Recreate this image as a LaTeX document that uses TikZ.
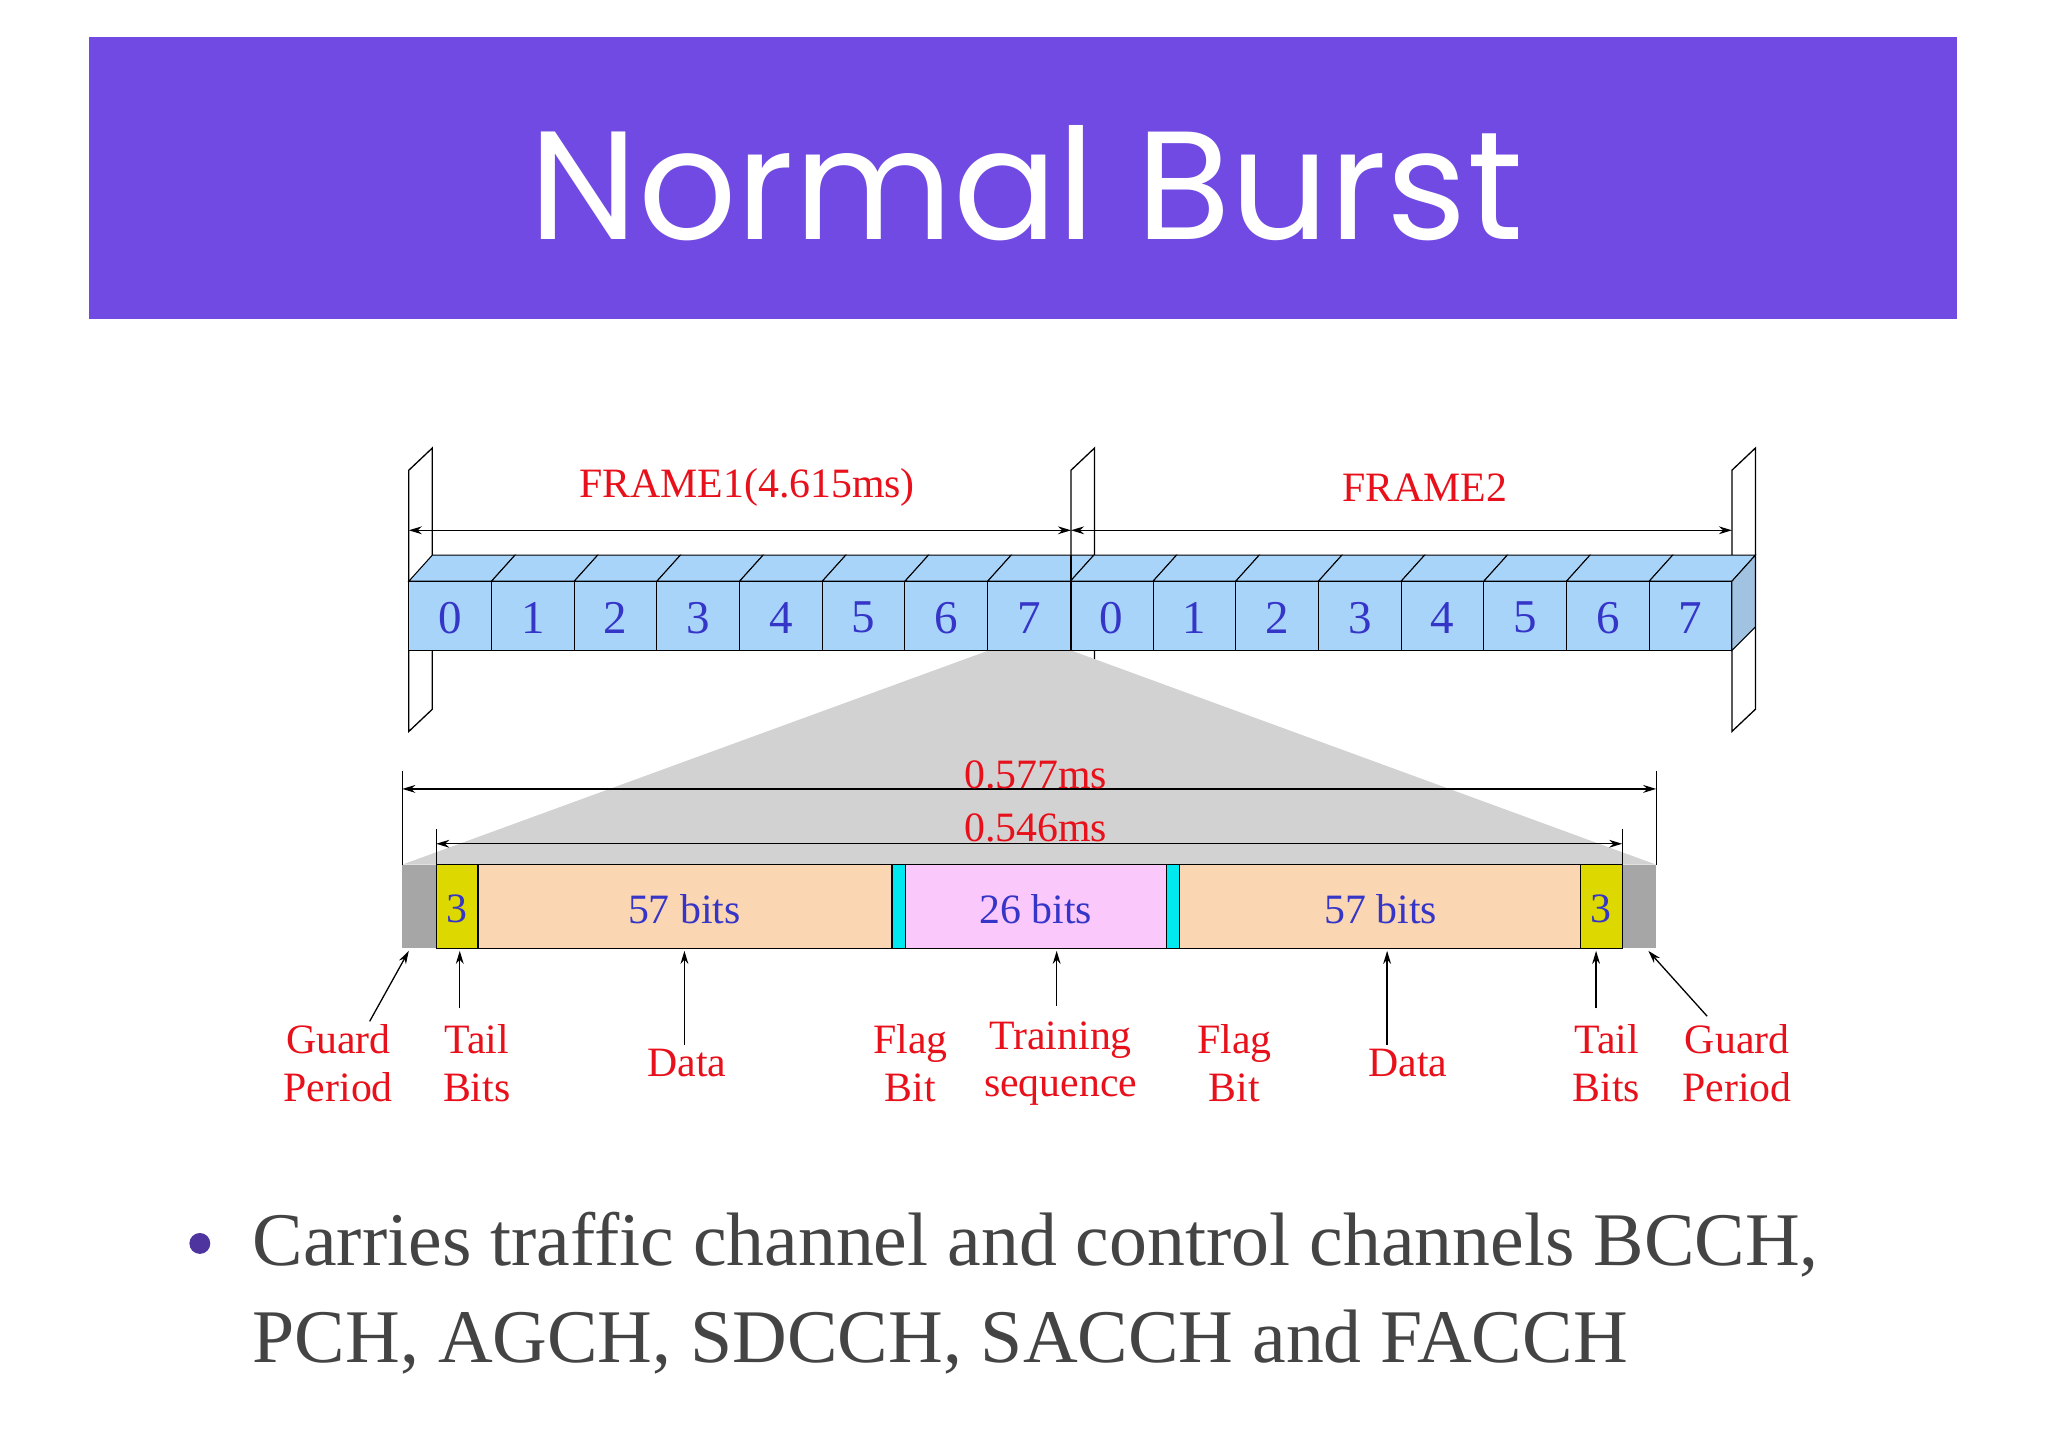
\documentclass[tikz,border=0pt]{standalone}
\usepackage{fontspec}
\setmainfont{Liberation Serif}
\newfontfamily\titlefont{Poppins}
\usetikzlibrary{arrows.meta}
\definecolor{banner}{HTML}{704AE2}
\definecolor{slotblue}{HTML}{A9D4FA}
\definecolor{numblue}{HTML}{3535C8}
\definecolor{lblred}{HTML}{E8101A}
\definecolor{peach}{HTML}{FBD6B2}
\definecolor{pinkt}{HTML}{FBC8FB}
\definecolor{tailyel}{HTML}{DCD800}
\definecolor{flagcy}{HTML}{00E8F0}
\definecolor{bodygray}{HTML}{444444}
\tikzset{
  lbl/.style={text=lblred,font=\fontsize{32}{36}\selectfont,align=center},
  num/.style={text=numblue,font=\fontsize{36}{40}\selectfont},
  dim/.style={{Stealth[length=10pt,width=6pt]}-{Stealth[length=10pt,width=6pt]},line width=1pt},
  up/.style={-{Stealth[length=10pt,width=6pt]},line width=1pt},
  plate/.style={draw,line width=1pt,fill=white}
}
\begin{document}
\begin{tikzpicture}[x=1pt,y=1pt]
\useasboundingbox (0,0) rectangle (1568,-1109);
\fill[white] (0,0) rectangle (1568,-1109);
% banner
\fill[banner] (68,-28) rectangle (1498,-244);
\node[text=white,font=\titlefont\fontsize{118}{130}\selectfont] (title) at (786,-140) {Normal Burst};
% plates
\foreach \px/\nm in {313/pa,820/pb,1326/pc}{
  \draw[plate] (\px,-360) -- (\px,-560) -- (\px+18,-543) -- (\px+18,-343) -- cycle;
}
% frame arrows
\coordinate (f1l) at (313,-406); \coordinate (f1r) at (820,-406); \coordinate (f2r) at (1326,-406);
\draw[dim] (f1l) -- (f1r);
\draw[dim] (f1r) -- (f2r);
\node[lbl] (fr1) at (572,-373) {FRAME1(4.615ms)};
\node[lbl] (fr2) at (1091,-373) {FRAME2};
% gray trapezoid
\fill[gray!35] (757,-498) -- (820,-498) -- (1268,-662) -- (308,-662) -- cycle;
% slots
\foreach \i in {0,...,15}{
  \pgfmathsetmacro\xa{313+\i*63.31}
  \pgfmathsetmacro\xb{313+(\i+1)*63.31}
  \pgfmathtruncatemacro\n{mod(\i,8)}
  \draw[fill=slotblue,line width=0.8pt] (\xa,-445) -- (\xa+18,-425) -- (\xb+18,-425) -- (\xb,-445) -- cycle;
  \draw[fill=slotblue,line width=0.8pt] (\xa,-445) rectangle (\xb,-498);
  \node[num] (s\i) at ({(\xa+\xb)/2},-473) {\n};
}
\draw[fill=slotblue!80!gray,line width=0.8pt] (1326,-445) -- (1344,-425) -- (1344,-480) -- (1326,-498) -- cycle;
% plate front overlap lines for middle plate over slots
\draw[line width=1pt] (820,-425) -- (820,-498);
% dimension ticks
\draw[line width=1pt] (308,-590) -- (308,-662) (1268,-590) -- (1268,-662);
\draw[line width=1pt] (334,-635) -- (334,-662) (1242,-635) -- (1242,-662);
\coordinate (d1l) at (308,-604); \coordinate (d1r) at (1268,-604);
\coordinate (d2l) at (334,-646); \coordinate (d2r) at (1242,-646);
\draw[dim] (d1l) -- (d1r);
\draw[dim] (d2l) -- (d2r);
\node[lbl] (t577) at (793,-593) {0.577ms};
\node[lbl] (t546) at (793,-634) {0.546ms};
% burst
\fill[gray!70] (308,-662) rectangle (334,-726);
\fill[gray!70] (1242,-662) rectangle (1268,-726);
\draw[fill=tailyel,line width=1pt] (334,-662) rectangle (366,-726);
\draw[fill=peach,line width=1pt] (366,-662) rectangle (683,-726);
\draw[fill=flagcy,line width=1pt] (683,-662) rectangle (693,-726);
\draw[fill=pinkt,line width=1pt] (693,-662) rectangle (893,-726);
\draw[fill=flagcy,line width=1pt] (893,-662) rectangle (903,-726);
\draw[fill=peach,line width=1pt] (903,-662) rectangle (1210,-726);
\draw[fill=tailyel,line width=1pt] (1210,-662) rectangle (1242,-726);
\node[num,font=\fontsize{32}{36}\selectfont] (b1) at (350,-696) {3};
\node[num,font=\fontsize{32}{36}\selectfont] (b2) at (524,-696) {57 bits};
\node[num,font=\fontsize{32}{36}\selectfont] (b3) at (793,-696) {26 bits};
\node[num,font=\fontsize{32}{36}\selectfont] (b4) at (1057,-696) {57 bits};
\node[num,font=\fontsize{32}{36}\selectfont] (b5) at (1226,-696) {3};
% labels
\node[lbl] (g1) at (259,-814) {Guard\\Period};
\node[lbl] (tb1) at (365,-814) {Tail\\Bits};
\node[lbl] (da1) at (526,-814) {Data};
\node[lbl] (fl1) at (697,-814) {Flag\\Bit};
\node[lbl] (tr) at (812,-814) {Training\\sequence};
\node[lbl] (fl2) at (945,-814) {Flag\\Bit};
\node[lbl] (da2) at (1078,-814) {Data};
\node[lbl] (tb2) at (1230,-814) {Tail\\Bits};
\node[lbl] (g2) at (1330,-814) {Guard\\Period};
\coordinate (ga1) at (283,-782); \coordinate (gb1) at (313,-728);
\coordinate (ga2) at (1307,-778); \coordinate (gb2) at (1262,-728);
\draw[up] (ga1) -- (gb1);
\draw[up] (ga2) -- (gb2);
\draw[up] (352,-772) -- (352,-728);
\draw[up] (524,-800) -- (524,-728);
\draw[up] (809,-770) -- (809,-728);
\draw[up] (1062,-800) -- (1062,-728);
\draw[up] (1222,-772) -- (1222,-728);
% bullet
\fill[banner!70!black] (153,-952) circle (8);
\node[anchor=west,text=bodygray,font=\fontsize{58}{74}\selectfont,align=left] (body) at (190,-990)
  {Carries traffic channel and control channels BCCH,\\PCH, AGCH, SDCCH, SACCH and FACCH};
\end{tikzpicture}
\end{document}
